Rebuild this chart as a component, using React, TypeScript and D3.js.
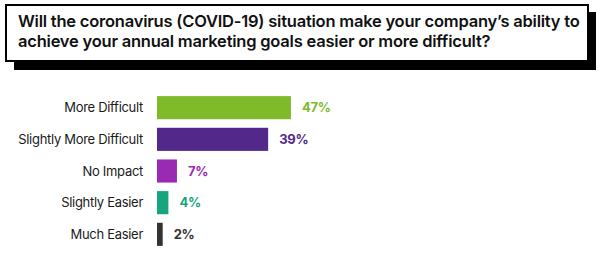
import React from "react";
import * as d3 from "d3";

const categories = ["More Difficult", "Slightly More Difficult", "No Impact", "Slightly Easier", "Much Easier"];
const values = [47, 39, 7, 4, 2];
const colors = ["#7fba2b", "#52288a", "#9a2ab4", "#16a57c", "#333333"];
const titleLines = [
  "Will the coronavirus (COVID-19) situation make your company\u2019s ability to",
  "achieve your annual marketing goals easier or more difficult?",
];

export default function App() {
  const W = 600, H = 253;
  const x = d3.scaleLinear().domain([0, 100]).range([157, 157 + 285]);
  const y = d3.scaleBand().domain(categories).range([92, 250]).paddingInner(0.27).paddingOuter(0.13);
  const font = "Inter, 'Noto Sans', sans-serif";
  return (
    <svg width={W} height={H} style={{ position: "absolute", left: 0, top: 0, background: "#fff" }}>
      <rect x={14} y={12} width={582} height={58} fill="#000" />
      <rect x={6} y={5} width={582} height={56} fill="#fff" stroke="#000" strokeWidth={2} />
      {titleLines.map((t, i) => (
        <text key={i} x={18} y={27 + i * 20} fontFamily={font} fontWeight={600} fontSize={16.5} letterSpacing={-0.22} fill="#111">
          {t}
        </text>
      ))}
      {categories.map((c, i) => {
        const yy = y(c)!;
        const bw = y.bandwidth();
        return (
          <g key={c}>
            <text x={143} y={yy + bw / 2} dy="0.35em" textAnchor="end" fontFamily={font} fontSize={13} letterSpacing={-0.3} fill="#1a1a1a">
              {c}
            </text>
            <rect x={x(0)} y={yy} width={x(values[i]) - x(0)} height={bw} fill={colors[i]} />
            <text x={x(values[i]) + 11} y={yy + bw / 2} dy="0.35em" fontFamily={font} fontWeight={700} fontSize={13} letterSpacing={-0.3} fill={colors[i]}>
              {values[i]}%
            </text>
          </g>
        );
      })}
    </svg>
  );
}
